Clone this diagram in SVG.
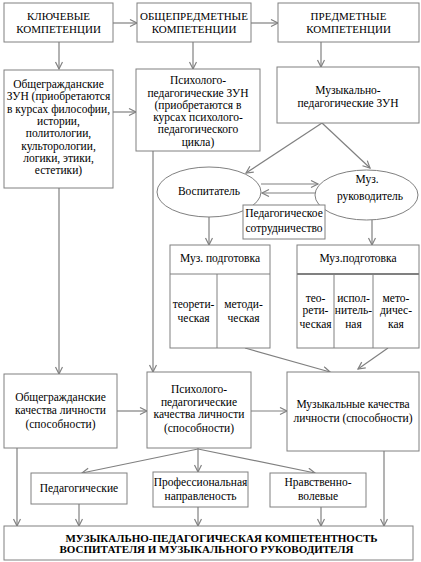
<svg xmlns="http://www.w3.org/2000/svg" width="421" height="562" viewBox="0 0 421 562">
<defs>
<style>
.b{fill:#fff;stroke:#808080;stroke-width:1}
.t{font-family:'Liberation Serif','DejaVu Serif',serif;font-size:11.5px;fill:#000;text-anchor:middle}
.h{font-family:'Liberation Serif','DejaVu Serif',serif;font-size:11px;fill:#000;text-anchor:middle}
.bt{font-family:'Liberation Serif','DejaVu Serif',serif;font-size:11px;font-weight:bold;fill:#000;text-anchor:middle}
.c{stroke:#808080;stroke-width:1.2;fill:none;marker-end:url(#a)}
.d{stroke:#808080;stroke-width:1;fill:none}
</style>
<marker id="a" markerWidth="10" markerHeight="10" refX="8" refY="4" orient="auto" markerUnits="userSpaceOnUse">
<path d="M1,0.5 L8,4 L1,7.5" fill="none" stroke="#808080" stroke-width="1.2"/>
</marker>
</defs>
<rect width="421" height="562" fill="#fff"/>
<g id="connectors">
<line class="c" x1="113" y1="23" x2="137" y2="23"/>
<line class="c" x1="251" y1="23" x2="278" y2="23"/>
<line class="c" x1="59" y1="42" x2="59" y2="69"/>
<line class="c" x1="193" y1="42" x2="193" y2="69"/>
<line class="c" x1="321" y1="42" x2="321" y2="67"/>
<line class="c" x1="113" y1="112" x2="136" y2="112"/>
<line class="c" x1="59" y1="188" x2="59" y2="374"/>
<line class="c" x1="153" y1="151" x2="153" y2="372"/>
<line class="c" x1="322" y1="123" x2="246" y2="173"/>
<line class="c" x1="322" y1="123" x2="370" y2="168"/>
<line class="c" x1="261" y1="184" x2="318" y2="184"/>
<line class="c" x1="316" y1="193" x2="262" y2="193"/>
<line class="c" x1="209" y1="217" x2="209" y2="245"/>
<line class="c" x1="372" y1="220" x2="372" y2="245"/>
<line class="c" x1="245" y1="348" x2="330" y2="372"/>
<line class="c" x1="388" y1="348" x2="358" y2="369"/>
<line class="c" x1="117" y1="411" x2="147" y2="411"/>
<line class="c" x1="251" y1="411" x2="287" y2="411"/>
<line class="c" x1="17" y1="448" x2="17" y2="526"/>
<line class="c" x1="198" y1="448" x2="198" y2="472"/>
<line class="c" x1="198" y1="449" x2="82" y2="473"/>
<line class="c" x1="198" y1="449" x2="315" y2="473"/>
<line class="c" x1="79" y1="504" x2="79" y2="526"/>
<line class="c" x1="198" y1="507" x2="198" y2="526"/>
<line class="c" x1="321" y1="507" x2="321" y2="526"/>
<line class="c" x1="384" y1="451" x2="384" y2="526"/>
</g>
<g id="key">
<rect class="b" x="4" y="3" width="109" height="39"/>
<text class="h" x="58.5" y="20">КЛЮЧЕВЫЕ</text>
<text class="h" x="58.5" y="33">КОМПЕТЕНЦИИ</text>
</g>
<g id="general-subject">
<rect class="b" x="137" y="3" width="114" height="39"/>
<text class="h" x="194" y="20">ОБЩЕПРЕДМЕТНЫЕ</text>
<text class="h" x="194" y="33">КОМПЕТЕНЦИИ</text>
</g>
<g id="subject">
<rect class="b" x="278" y="3" width="141" height="39"/>
<text class="h" x="348.5" y="20">ПРЕДМЕТНЫЕ</text>
<text class="h" x="348.5" y="33">КОМПЕТЕНЦИИ</text>
</g>
<g id="civic-zun">
<rect class="b" x="4" y="70" width="109" height="118"/>
<text class="t" x="58.5" y="88">Общегражданские</text>
<text class="t" x="58.5" y="100.3">ЗУН (приобретаются</text>
<text class="t" x="58.5" y="112.6">в курсах философии,</text>
<text class="t" x="58.5" y="124.9">истории,</text>
<text class="t" x="58.5" y="137.2">политологии,</text>
<text class="t" x="58.5" y="149.5">культорологии,</text>
<text class="t" x="58.5" y="161.8">логики, этики,</text>
<text class="t" x="58.5" y="174.1">естетики)</text>
</g>
<g id="psych-zun">
<rect class="b" x="136" y="69" width="124" height="82"/>
<text class="t" x="198" y="84.3">Психолого-</text>
<text class="t" x="198" y="96.7">педагогические ЗУН</text>
<text class="t" x="198" y="108.7">(приобретаются в</text>
<text class="t" x="198" y="121">курсах психолого-</text>
<text class="t" x="198" y="133.3">педагогического</text>
<text class="t" x="198" y="145.5">цикла)</text>
</g>
<g id="music-zun">
<rect class="b" x="277" y="67" width="142" height="56"/>
<text class="t" x="348" y="94">Музыкально-</text>
<text class="t" x="348" y="106.7">педагогические ЗУН</text>
</g>
<g id="educator">
<ellipse class="b" cx="209" cy="192" rx="52" ry="25"/>
<text class="t" x="209" y="194.5">Воспитатель</text>
</g>
<g id="music-director">
<ellipse class="b" cx="366.5" cy="195" rx="51.5" ry="25"/>
<text class="t" x="367" y="183">Муз.</text>
<text class="t" x="370" y="199.5">руководитель</text>
</g>
<g id="cooperation">
<rect class="b" x="243" y="205" width="82" height="34"/>
<text class="t" x="284" y="216.7">Педагогическое</text>
<text class="t" x="284" y="231.7">сотрудничество</text>
</g>
<g id="training1">
<rect class="b" x="170" y="245" width="100" height="103"/>
<line class="d" x1="170" y1="274" x2="270" y2="274"/>
<line class="d" x1="217" y1="274" x2="217" y2="348"/>
<text class="t" x="220" y="261.7">Муз. подготовка</text>
<text class="t" x="193.5" y="308">теорети-</text>
<text class="t" x="193.5" y="321.7">ческая</text>
<text class="t" x="243.5" y="308">методи-</text>
<text class="t" x="243.5" y="321.7">ческая</text>
</g>
<g id="training2">
<rect class="b" x="297" y="245" width="122" height="103"/>
<line x1="297" y1="274" x2="419" y2="274" stroke="#808080" stroke-width="2"/>
<line class="d" x1="334" y1="274" x2="334" y2="348"/>
<line class="d" x1="373" y1="274" x2="373" y2="348"/>
<text class="t" x="358" y="261.7">Муз.подготовка</text>
<text class="t" x="315.5" y="301.7">тео-</text>
<text class="t" x="315.5" y="314.3">рети-</text>
<text class="t" x="315.5" y="327.7">ческая</text>
<text class="t" x="353.5" y="301.7">испол-</text>
<text class="t" x="353.5" y="314.3">нитель-</text>
<text class="t" x="353.5" y="327.7">ная</text>
<text class="t" x="396" y="301.7">мето-</text>
<text class="t" x="396" y="314.3">дичес-</text>
<text class="t" x="396" y="327.7">кая</text>
</g>
<g id="civic-qualities">
<rect class="b" x="4" y="374" width="113" height="74"/>
<text class="t" x="60.5" y="401">Общегражданские</text>
<text class="t" x="60.5" y="414">качества личности</text>
<text class="t" x="60.5" y="427.7">(способности)</text>
</g>
<g id="psych-qualities">
<rect class="b" x="147" y="372" width="104" height="76"/>
<text class="t" x="199" y="393.3">Психолого-</text>
<text class="t" x="199" y="405.7">педагогические</text>
<text class="t" x="199" y="417.7">качества личности</text>
<text class="t" x="199" y="431.7">(способности)</text>
</g>
<g id="music-qualities">
<rect class="b" x="287" y="372" width="132" height="79"/>
<text class="t" x="353" y="407.7">Музыкальные качества</text>
<text class="t" x="353" y="421.7">личности (способности)</text>
</g>
<g id="pedagogical">
<rect class="b" x="31" y="473" width="96" height="31"/>
<text class="t" x="79" y="491.5">Педагогические</text>
</g>
<g id="professional">
<rect class="b" x="153" y="472" width="95" height="35"/>
<text class="t" x="200.5" y="486">Профессиональная</text>
<text class="t" x="200.5" y="500">направленость</text>
</g>
<g id="moral">
<rect class="b" x="270" y="473" width="96" height="34"/>
<text class="t" x="318" y="486">Нравственно-</text>
<text class="t" x="318" y="500">волевые</text>
</g>
<g id="competence">
<rect class="b" x="4" y="526" width="409" height="34"/>
<text class="bt" x="221.5" y="541.5">МУЗЫКАЛЬНО-ПЕДАГОГИЧЕСКАЯ КОМПЕТЕНТНОСТЬ</text>
<text class="bt" x="206.5" y="553">ВОСПИТАТЕЛЯ И МУЗЫКАЛЬНОГО РУКОВОДИТЕЛЯ</text>
</g>
</svg>
